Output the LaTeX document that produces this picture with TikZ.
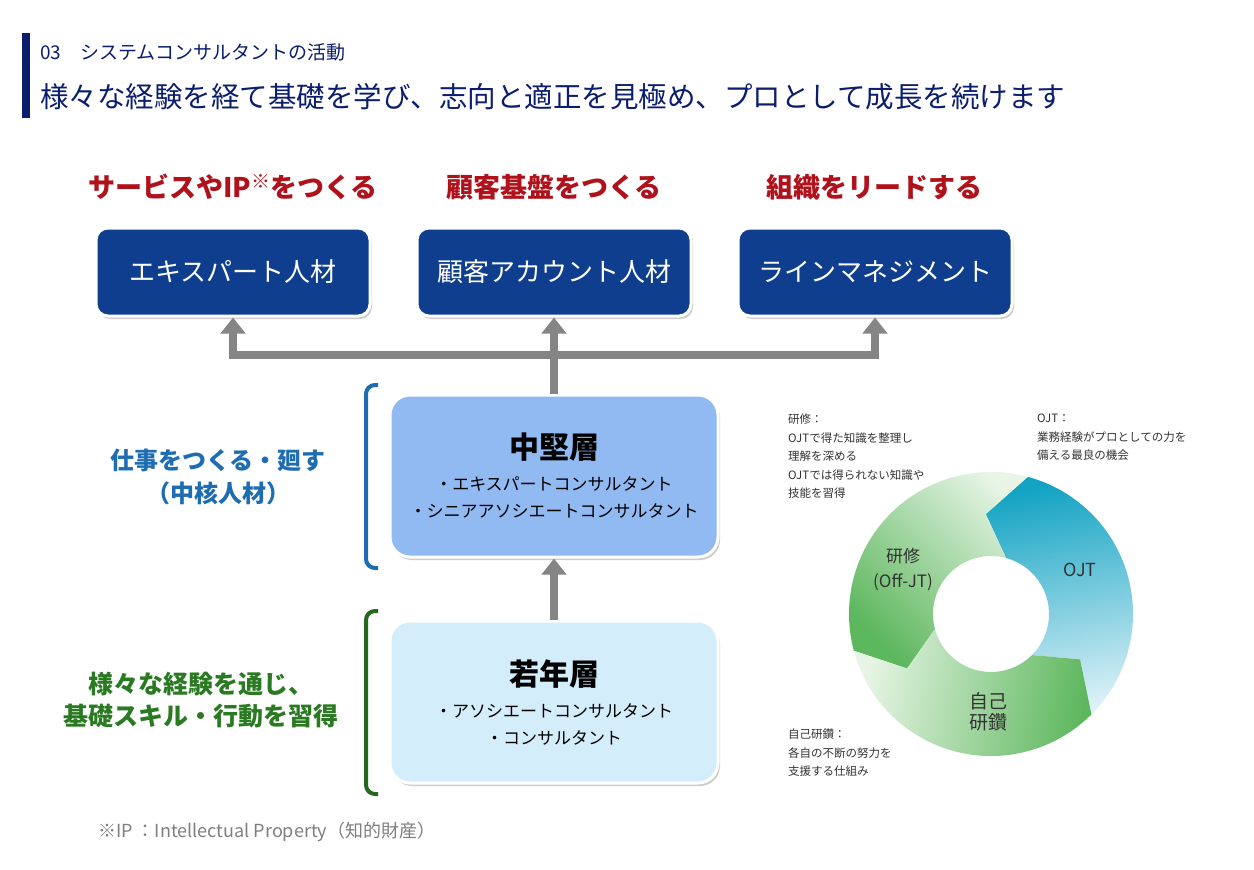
\documentclass[tikz,border=0pt]{standalone}
\usepackage{fontspec}
\setmainfont{Noto Sans CJK JP}
\usetikzlibrary{arrows.meta,shadows}

\definecolor{navy}{HTML}{0B1E6E}
\definecolor{boxblue}{HTML}{0F3E8E}
\definecolor{headred}{HTML}{B0121B}
\definecolor{midblue}{HTML}{91B9F2}
\definecolor{paleblue}{HTML}{D3EDFB}
\definecolor{sideblue}{HTML}{1E6DB3}
\definecolor{sidegreen}{HTML}{2A7A22}
\definecolor{arrowgray}{HTML}{858585}
\definecolor{ojtdark}{HTML}{12A3C3}
\definecolor{ojtlight}{HTML}{DDF1F7}
\definecolor{leafdark}{HTML}{5DB75D}
\definecolor{leaflight}{HTML}{E8F5E6}
\definecolor{notegray}{HTML}{333333}
\definecolor{footgray}{HTML}{7F7F7F}

\newcommand{\jsize}[2]{\fontsize{#1pt}{#2pt}\selectfont}

\begin{document}
\begin{tikzpicture}[x=1pt,y=-1pt,
  txt/.style={inner sep=0pt},
  goal/.style={txt, text=headred, font=\bfseries\jsize{27}{30}},
  rolebox/.style={rounded corners=12pt, fill=boxblue, draw=white, line width=3pt,
    minimum width=274pt, minimum height=88pt, text=white, font=\jsize{26}{30},
    drop shadow={shadow xshift=2pt, shadow yshift=-3pt, opacity=0.4}},
  tierbox/.style={rounded corners=20pt, draw=white, line width=3pt,
    minimum width=328pt, minimum height=162pt, align=center, font=\jsize{17}{27},
    drop shadow={shadow xshift=2pt, shadow yshift=-3pt, opacity=0.4}},
  flow/.style={draw=arrowgray, line width=8pt, -{Triangle[width=24pt,length=16pt]}},
  brace/.style={line width=4pt, rounded corners=9pt},
  note/.style={txt, anchor=north west, align=left, text=notegray, font=\jsize{11.5}{18.5}}]
  \fill[white] (0,0) rectangle (1254,870);
  \useasboundingbox (0,0) rectangle (1254,870);

  % heading
  \fill[navy] (22,33) rectangle (30,118);
  \node[txt, anchor=west, text=navy, font=\jsize{19}{22}] (section) at (40,52) {03　システムコンサルタントの活動};
  \node[txt, anchor=west, text=navy, font=\jsize{28.5}{32}] (title) at (40,97) {様々な経験を経て基礎を学び、志向と適正を見極め、プロとして成長を続けます};

  % career goals
  \node[goal] (goalip) at (233,187) {サービスやIP\textsuperscript{※}をつくる};
  \node[goal] (goalcust) at (554,187) {顧客基盤をつくる};
  \node[goal] (goalorg) at (874,187) {組織をリードする};
  \node[rolebox] (expert) at (233,272) {エキスパート人材};
  \node[rolebox] (account) at (554,272) {顧客アカウント人材};
  \node[rolebox] (linemgr) at (875,272) {ラインマネジメント};

  % tiers
  \node[tierbox, fill=midblue] (mid) at (554,476)
    {{\bfseries\jsize{30}{27}中堅層}\\[5pt]・エキスパートコンサルタント\\・シニアアソシエートコンサルタント};
  \node[tierbox, fill=paleblue] (young) at (554,702)
    {{\bfseries\jsize{30}{27}若年層}\\[5pt]・アソシエートコンサルタント\\・コンサルタント};

  % arrows
  \coordinate (bus) at (554,355);
  \draw[flow] (mid.north) -- (account.south);
  \draw[flow] (bus) -| (expert.south);
  \draw[flow] (bus) -| (linemgr.south);
  \draw[flow] (young.north) -- (mid.south);

  % brackets
  \draw[brace, draw=sideblue] (378,385) -- (366,385) -- (366,568) -- (378,568);
  \draw[brace, draw=sidegreen!85!black] (378,611) -- (366,611) -- (366,794) -- (378,794);
  \node[txt, align=center, text=sideblue, font=\bfseries\jsize{24}{33}] (core) at (218,477) {仕事をつくる・廻す\\（中核人材）};
  \node[txt, align=center, text=sidegreen, font=\bfseries\jsize{25}{32}] (basic) at (201,700) {様々な経験を通じ、\\基礎スキル・行動を習得};

  % learning cycle
  \begin{scope}[shift={(991,614)}, y=1pt]
    \shade[top color=ojtdark, bottom color=ojtlight, shading angle=10]
      (-45:142pt) arc[start angle=-45, end angle=75, radius=142pt] -- (93:100pt)
      -- (75:58pt) arc[start angle=75, end angle=-45, radius=58pt] -- (-27:100pt) -- cycle;
    \shade[top color=leafdark, bottom color=leaflight, shading angle=135]
      (75:142pt) arc[start angle=75, end angle=195, radius=142pt] -- (213:100pt)
      -- (195:58pt) arc[start angle=195, end angle=75, radius=58pt] -- (93:100pt) -- cycle;
    \shade[top color=leafdark, bottom color=leaflight, shading angle=260]
      (195:142pt) arc[start angle=195, end angle=315, radius=142pt] -- (333:100pt)
      -- (315:58pt) arc[start angle=315, end angle=195, radius=58pt] -- (213:100pt) -- cycle;
  \end{scope}
  \node[txt, text=notegray, font=\jsize{18}{20}] (ojt) at (1080,570) {OJT};
  \node[txt, align=center, text=notegray, font=\jsize{17}{25}] (offjt) at (903,570) {研修\\(Off-JT)};
  \node[txt, align=center, text=notegray, font=\jsize{19}{21}] (self) at (988,712) {自己\\研鑽};

  % notes
  \node[note] (offjtnote) at (788,414) {研修：\\OJTで得た知識を整理し\\理解を深める\\OJTでは得られない知識や\\技能を習得};
  \node[note] (ojtnote) at (1037,414) {OJT：\\業務経験がプロとしての力を\\備える最良の機会};
  \node[note] (selfnote) at (788,729) {自己研鑽：\\各自の不断の努力を\\支援する仕組み};

  \node[txt, anchor=west, text=footgray, font=\jsize{18}{20}] (footnote) at (98,832) {※IP ：Intellectual Property（知的財産）};
\end{tikzpicture}
\end{document}
